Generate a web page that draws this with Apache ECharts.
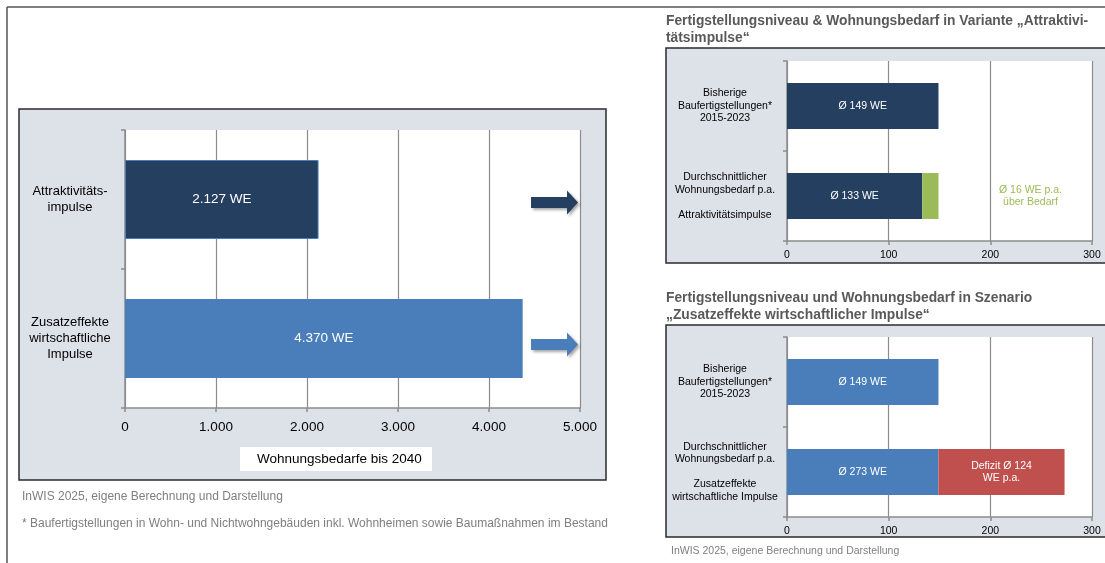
<!DOCTYPE html>
<html>
<head>
<meta charset="utf-8">
<script src="https://cdn.jsdelivr.net/npm/echarts@6/dist/echarts.min.js"></script>
<style>
  html, body { margin: 0; padding: 0; background: #fff; }
  #main { width: 1105px; height: 563px; }
</style>
</head>
<body>
<div id="main"></div>
<script>
// linke Grafik: Wohnungsbedarfe bis 2040
var leftCategories = ["Attraktivitäts-\nimpulse", "Zusatzeffekte\nwirtschaftliche\nImpulse"];
var leftValues = [2127, 4370];

// rechts oben: Variante Attraktivitätsimpulse
var topCategories = [
  "Bisherige\nBaufertigstellungen*\n2015-2023",
  "Durchschnittlicher\nWohnungsbedarf p.a.\n\nAttraktivitätsimpulse"
];
var topBase = [149, 133];
var topOver = ["-", 16];

// rechts unten: Szenario Zusatzeffekte wirtschaftlicher Impulse
var bottomCategories = [
  "Bisherige\nBaufertigstellungen*\n2015-2023",
  "Durchschnittlicher\nWohnungsbedarf p.a.\n\nZusatzeffekte\nwirtschaftliche Impulse"
];
var bottomBase = [149, 149];
var bottomDeficit = ["-", 124];

var FONT = "'Liberation Sans', Arial, sans-serif";
var NAVY = "#243f60";
var BLUE = "#4a7ebb";
var GREEN = "#9bbb59";
var RED = "#c0504d";
var PANEL = "#dde1e8";
var GRIDLINE = "#8c8c8c";

function de(n) {
  return String(n).replace(/\B(?=(\d{3})+(?!\d))/g, ".");
}

var arrowPath = "path://M0,6.5 L36,6.5 L36,0 L47,12 L36,24 L36,17.5 L0,17.5 Z";

function valueAxis(idx, max, interval, fontSize, margin, fmt) {
  return {
    type: "value",
    gridIndex: idx,
    min: 0,
    max: max,
    interval: interval,
    axisLine: { show: true, lineStyle: { color: GRIDLINE, width: 1.5 } },
    axisTick: { show: true, length: 4, lineStyle: { color: GRIDLINE, width: 1.5 } },
    splitLine: { show: true, lineStyle: { color: GRIDLINE, width: 1.2 } },
    axisLabel: {
      color: "#000",
      fontSize: fontSize,
      fontFamily: FONT,
      margin: margin,
      formatter: fmt,
    },
  };
}

function catAxis(idx, data, fontSize, margin, lineHeight, padding) {
  return {
    type: "category",
    gridIndex: idx,
    inverse: true,
    data: data,
    axisLine: { show: true, lineStyle: { color: GRIDLINE, width: 1.5 } },
    axisTick: { show: true, length: 4, lineStyle: { color: GRIDLINE, width: 1.5 } },
    axisLabel: {
      color: "#000",
      fontSize: fontSize,
      fontFamily: FONT,
      margin: margin,
      align: "center",
      lineHeight: lineHeight,
      padding: padding || 0,
    },
  };
}

var option = {
  animation: false,
  textStyle: { fontFamily: FONT },
  grid: [
    { left: 125, top: 130, width: 455, height: 278, show: true, backgroundColor: "#fff", borderWidth: 0 },
    { left: 787, top: 61, width: 305, height: 180, show: true, backgroundColor: "#fff", borderWidth: 0 },
    { left: 787, top: 337, width: 305, height: 180, show: true, backgroundColor: "#fff", borderWidth: 0 },
  ],
  xAxis: [
    valueAxis(0, 5000, 1000, 13.5, 12, function (v) { return de(v); }),
    valueAxis(1, 300, 100, 10.5, 9),
    valueAxis(2, 300, 100, 10.5, 9),
  ],
  yAxis: [
    catAxis(0, leftCategories, 13, 55, 16, [6, 0, 0, 0]),
    catAxis(1, topCategories, 10.5, 62, 12.5),
    catAxis(2, bottomCategories, 10.5, 62, 12.5),
  ],
  series: [
    {
      type: "bar",
      xAxisIndex: 0,
      yAxisIndex: 0,
      barWidth: 79,
      data: leftValues.map(function (v, i) {
        return {
          value: v,
          itemStyle: i === 0
            ? { color: NAVY, borderColor: BLUE, borderWidth: 1 }
            : { color: BLUE },
        };
      }),
      label: {
        show: true,
        position: "inside",
        color: "#fff",
        fontSize: 13.5,
        formatter: function (p) { return de(p.value) + " WE"; },
      },
      markPoint: {
        symbol: arrowPath,
        symbolSize: [47, 24],
        label: { show: false },
        data: [
          { coord: [4720, leftCategories[0]], symbolOffset: [0, 3], itemStyle: { color: NAVY, shadowBlur: 3, shadowOffsetX: 2, shadowOffsetY: 2, shadowColor: "rgba(0,0,0,0.35)" } },
          { coord: [4720, leftCategories[1]], symbolOffset: [0, 6], itemStyle: { color: BLUE, shadowBlur: 3, shadowOffsetX: 2, shadowOffsetY: 2, shadowColor: "rgba(0,0,0,0.35)" } },
        ],
      },
    },
    {
      type: "bar",
      xAxisIndex: 1,
      yAxisIndex: 1,
      stack: "top",
      barWidth: 46,
      data: topBase,
      itemStyle: { color: NAVY },
      label: {
        show: true,
        position: "inside",
        color: "#fff",
        fontSize: 10.5,
        formatter: function (p) { return "Ø " + p.value + " WE"; },
      },
    },
    {
      type: "bar",
      xAxisIndex: 1,
      yAxisIndex: 1,
      stack: "top",
      barWidth: 46,
      data: topOver,
      itemStyle: { color: GREEN },
      label: {
        show: true,
        position: "right",
        distance: 92,
        align: "center",
        color: GREEN,
        fontSize: 10.5,
        lineHeight: 12,
        formatter: function (p) { return "Ø " + p.value + " WE p.a.\nüber Bedarf"; },
      },
    },
    {
      type: "bar",
      xAxisIndex: 2,
      yAxisIndex: 2,
      stack: "bottom",
      barWidth: 46,
      data: bottomBase,
      itemStyle: { color: BLUE },
      label: {
        show: true,
        position: "inside",
        color: "#fff",
        fontSize: 10.5,
        formatter: function (p) {
          var d = bottomDeficit[p.dataIndex];
          return "Ø " + (p.value + (typeof d === "number" ? d : 0)) + " WE";
        },
      },
    },
    {
      type: "bar",
      xAxisIndex: 2,
      yAxisIndex: 2,
      stack: "bottom",
      barWidth: 46,
      data: bottomDeficit,
      itemStyle: { color: RED },
      label: {
        show: true,
        position: "inside",
        color: "#fff",
        fontSize: 10.5,
        lineHeight: 12,
        formatter: function (p) { return "Defizit Ø " + p.value + "\nWE p.a."; },
      },
    },
  ],
  graphic: [
    // Rahmen der Seite
    { type: "line", z: -20, shape: { x1: 7, y1: 7, x2: 1105, y2: 7 }, style: { stroke: "#555", lineWidth: 1.5 } },
    { type: "line", z: -20, shape: { x1: 7, y1: 7, x2: 7, y2: 563 }, style: { stroke: "#555", lineWidth: 1.5 } },
    // Hintergrundflächen
    { type: "rect", z: -10, shape: { x: 19, y: 109, width: 587, height: 371 }, style: { fill: PANEL, stroke: "#2b2b2b", lineWidth: 1.5 } },
    { type: "rect", z: -10, shape: { x: 666, y: 48, width: 460, height: 215 }, style: { fill: PANEL, stroke: "#2b2b2b", lineWidth: 1.5 } },
    { type: "rect", z: -10, shape: { x: 666, y: 325, width: 460, height: 212 }, style: { fill: PANEL, stroke: "#2b2b2b", lineWidth: 1.5 } },
    // Achsentitel links
    { type: "rect", z: 10, shape: { x: 240, y: 447, width: 192, height: 24 }, style: { fill: "#fff" } },
    { type: "text", z: 11, x: 257, y: 459, style: { text: "Wohnungsbedarfe bis 2040", fill: "#000", font: "13.5px " + FONT, textVerticalAlign: "middle" } },
    // Quellen
    { type: "text", x: 22, y: 497, style: { text: "InWIS 2025, eigene Berechnung und Darstellung", fill: "#7f7f7f", font: "12px " + FONT, textVerticalAlign: "middle" } },
    { type: "text", x: 22, y: 524, style: { text: "* Baufertigstellungen in Wohn- und Nichtwohngebäuden inkl. Wohnheimen sowie Baumaßnahmen im Bestand", fill: "#7f7f7f", font: "12px " + FONT, textVerticalAlign: "middle" } },
    { type: "text", x: 671, y: 551, style: { text: "InWIS 2025, eigene Berechnung und Darstellung", fill: "#7f7f7f", font: "10.5px " + FONT, textVerticalAlign: "middle" } },
    // Titel rechts
    { type: "text", x: 666, y: 21, style: { text: "Fertigstellungsniveau & Wohnungsbedarf in Variante „Attraktivi-", fill: "#595959", font: "bold 13.8px " + FONT, textVerticalAlign: "middle" } },
    { type: "text", x: 666, y: 38, style: { text: "tätsimpulse“", fill: "#595959", font: "bold 13.8px " + FONT, textVerticalAlign: "middle" } },
    { type: "text", x: 666, y: 298, style: { text: "Fertigstellungsniveau und Wohnungsbedarf in Szenario", fill: "#595959", font: "bold 13.8px " + FONT, textVerticalAlign: "middle" } },
    { type: "text", x: 666, y: 315, style: { text: "„Zusatzeffekte wirtschaftlicher Impulse“", fill: "#595959", font: "bold 13.8px " + FONT, textVerticalAlign: "middle" } },
  ],
};

var myChart = echarts.init(document.getElementById("main"), null, { renderer: "canvas" });
myChart.setOption(option);
window.addEventListener("resize", function () {
  myChart.resize();
});
</script>
</body>
</html>
